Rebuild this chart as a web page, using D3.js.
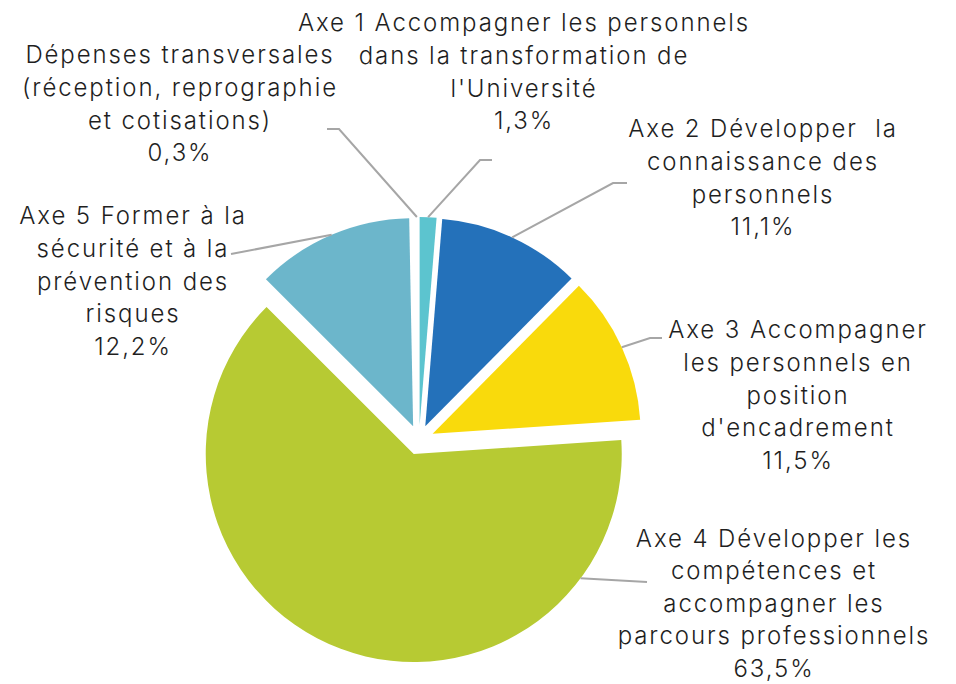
<!DOCTYPE html>
<html><head><meta charset="utf-8">
<script src="https://cdn.jsdelivr.net/npm/d3@7/dist/d3.min.js"></script>
<style>
html,body{margin:0;padding:0;background:#fff;}
svg{display:block;}
</style></head>
<body>
<svg id="chart" width="956" height="684"></svg>
<script>
// ---- data ----
const categories = [
  "Axe 1 Accompagner les personnels dans la transformation de l'Université",
  "Axe 2 Développer la connaissance des personnels",
  "Axe 3 Accompagner les personnels en position d'encadrement",
  "Axe 4 Développer les compétences et accompagner les parcours professionnels",
  "Axe 5 Former à la sécurité et à la prévention des risques",
  "Dépenses transversales (réception, reprographie et cotisations)"
];
const values = [1.3, 11.1, 11.5, 63.5, 12.2, 0.3];
const valueLabels = ["1,3%", "11,1%", "11,5%", "63,5%", "12,2%", "0,3%"];
const labelLines = [
  ["Axe 1 Accompagner les personnels", "dans la transformation de", "l'Université"],
  ["Axe 2 Développer  la", "connaissance des", "personnels"],
  ["Axe 3 Accompagner", "les personnels en", "position", "d'encadrement"],
  ["Axe 4 Développer les", "compétences et", "accompagner les", "parcours professionnels"],
  ["Axe 5 Former à la", "sécurité et à la", "prévention des", "risques"],
  ["Dépenses transversales", "(réception, reprographie", "et cotisations)"]
];

// ---- styles / layout ----
const colors = ["#5CC4CF", "#2471BA", "#F9DA0C", "#B7CA33", "#6CB6CB", "#FFFFFF"];
const cx = 419, cy = 440, R = 208, explode = 15;
// label layout: centre x, first baseline, line height, leader elbow, leader end, optional leader angle (deg)
const labelLayout = [
  {x: 524, y: 31, lh: 32.8, elbow: [480, 160], end: [492, 160]},
  {x: 763, y: 137, lh: 32.8, elbow: [613, 183], end: [627, 183]},
  {x: 798, y: 338, lh: 32.8, elbow: [650, 338], end: [662, 338]},
  {x: 774, y: 547, lh: 32.4, elbow: [647, 582], end: [647, 582], angle: 126.7},
  {x: 133, y: 224, lh: 32.8, elbow: [231, 254], end: [231, 254]},
  {x: 180, y: 63, lh: 32.8, elbow: [339, 129], end: [327, 129]}
];

const svg = d3.select("#chart");
const pie = d3.pie().sort(null).value(d => d)(values);
const arc = d3.arc().innerRadius(0).outerRadius(R);

const g = svg.append("g");
pie.forEach((p, i) => {
  const mid = (p.startAngle + p.endAngle) / 2;
  const ox = cx + explode * Math.sin(mid), oy = cy - explode * Math.cos(mid);
  g.append("path")
    .attr("d", arc(p))
    .attr("transform", `translate(${ox},${oy})`)
    .attr("fill", colors[i]);
  const L = labelLayout[i];
  const a = L.angle !== undefined ? L.angle * Math.PI / 180 : mid;
  const sx = ox + R * Math.sin(a), sy = oy - R * Math.cos(a);
  svg.append("polyline")
    .attr("points", [[sx, sy], L.elbow, L.end].map(q => q.join(",")).join(" "))
    .attr("fill", "none").attr("stroke", "#A6A6A6").attr("stroke-width", 2);
});

const lg = svg.append("g")
  .attr("font-family", "Inter, Lato, sans-serif")
  .attr("font-size", 24)
  .attr("font-weight", 300)
  .attr("fill", "#1f1f1f")
  .attr("text-anchor", "middle");
labelLines.forEach((lines, i) => {
  const L = labelLayout[i];
  const t = lg.append("text").attr("x", L.x).attr("y", L.y).style("letter-spacing", "1.9px").attr("xml:space", "preserve");
  lines.concat([valueLabels[i]]).forEach((s, k) => {
    t.append("tspan").attr("x", L.x).attr("y", L.y + k * L.lh).text(s);
  });
});
</script>
</body></html>
